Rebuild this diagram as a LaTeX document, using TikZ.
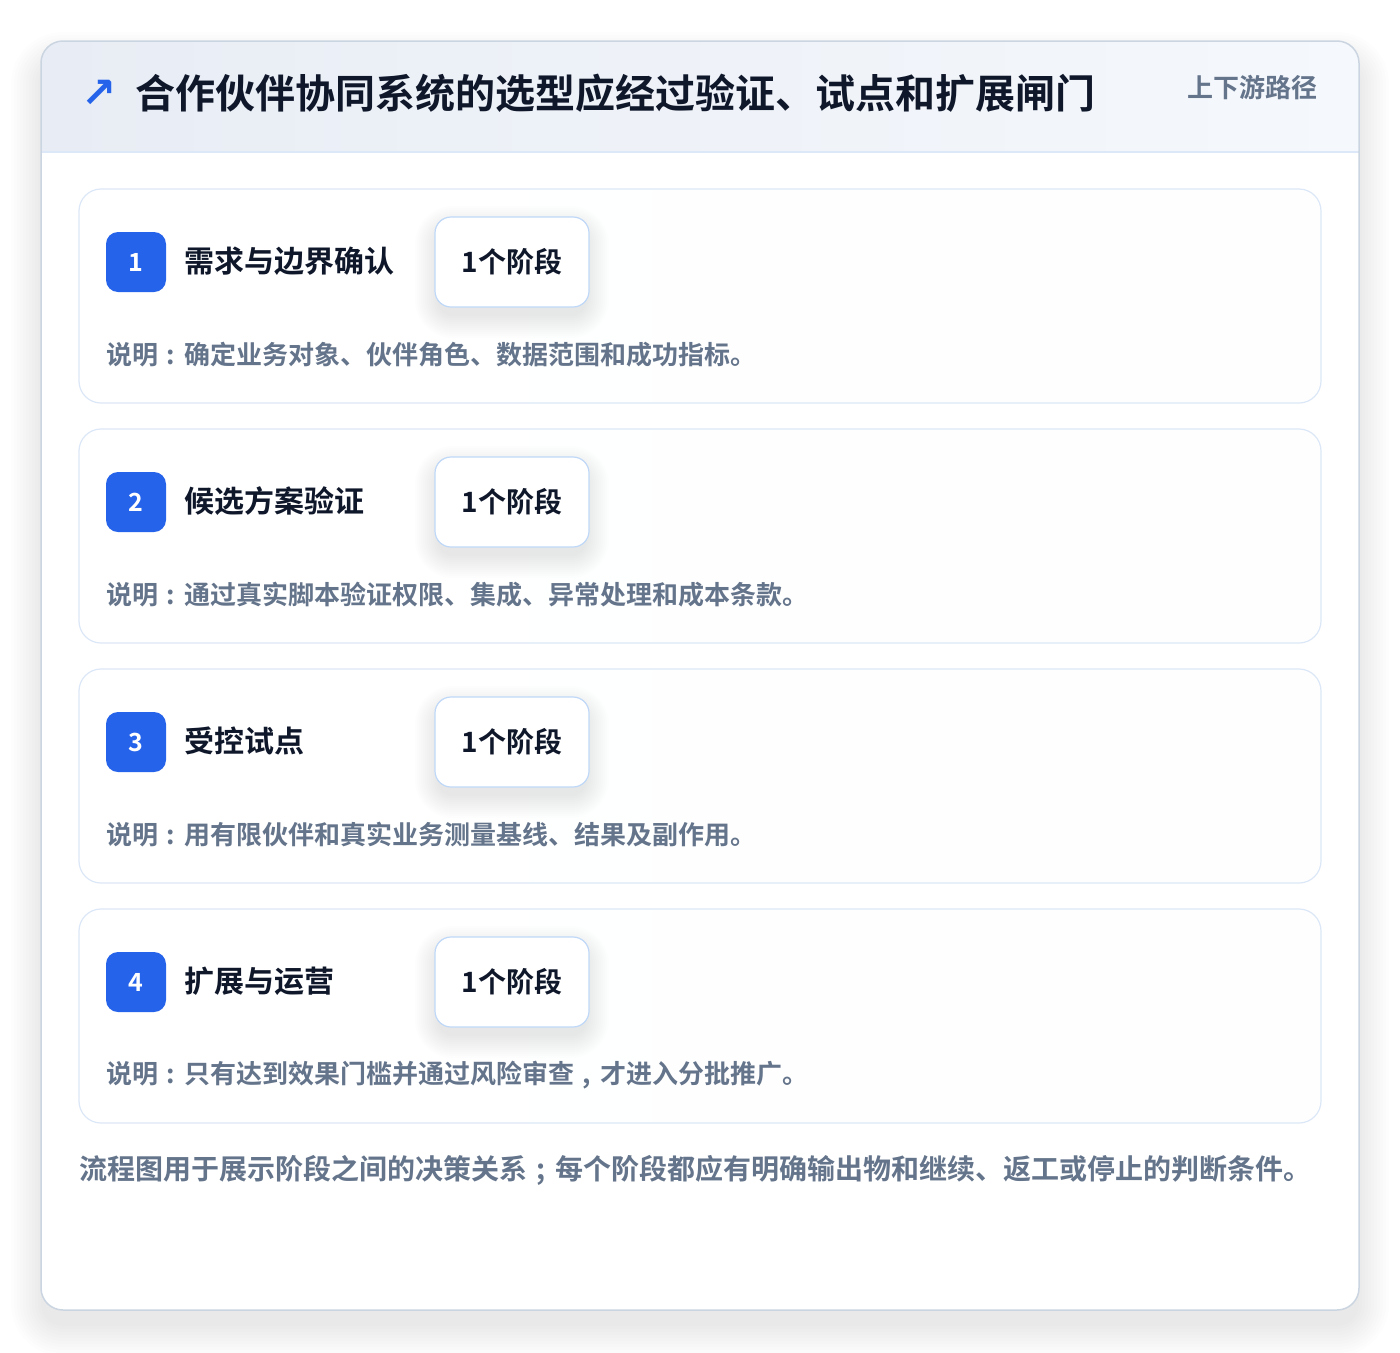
\documentclass[tikz,border=0pt]{standalone}
\usepackage{fontspec}
\newfontfamily\cjk{Noto Sans CJK SC}[UprightFont=* Medium, BoldFont=* Bold]
\newfontfamily\symf{DejaVu Sans}

\definecolor{accent}{HTML}{2563EB}
\definecolor{ink}{HTML}{0F172A}
\definecolor{muted}{HTML}{64748B}
\definecolor{cardline}{HTML}{DCE7F7}
\definecolor{tagline}{HTML}{BFD8F8}
\definecolor{frameline}{HTML}{CBD5E1}
\definecolor{headl}{HTML}{E8EDF5}
\definecolor{headr}{HTML}{F5F8FC}

% centred full-width punctuation
\newcommand\zcolon{\makebox[1em]{:}}
\newcommand\zcomma{\makebox[1em]{,}}
\newcommand\zsemi{\makebox[1em]{;}}

\tikzset{
  txt/.style={inner sep=0,anchor=west,font=\cjk},
  stepcard/.style={draw=cardline,line width=1.2pt,rounded corners=22,
    left color=white,right color=white!94!headl,
    minimum width=1242,minimum height=214},
  badge/.style={fill=accent,rounded corners=12,minimum size=60,inner sep=0,
    text=white,font=\cjk\bfseries\fontsize{25}{30}\selectfont},
  steptitle/.style={txt,text=ink,font=\cjk\bfseries\fontsize{30}{36}\selectfont},
  tag/.style={draw=tagline,line width=1.2pt,fill=white,rounded corners=16,
    minimum width=154,minimum height=90,inner sep=0,text=ink,
    font=\cjk\bfseries\fontsize{28}{34}\selectfont},
  desc/.style={txt,text=muted,font=\cjk\bfseries\fontsize{26}{32}\selectfont},
  haze/.style={fill=black,fill opacity=#1},
  haze/.default=0.011
}

\begin{document}
\begin{tikzpicture}[x=1pt,y=-1pt]
  \useasboundingbox (0,0) rectangle (1400,1352);
  \fill[white] (0,0) rectangle (1400,1352);

  % frame shadow
  \foreach \s in {0,3,...,30}
    \fill[haze=0.007,rounded corners=22+\s] (41-\s,62-\s) rectangle (1359+\s,1326+\s);

  % frame
  \node (frame) at (700,675.5) [fill=white!99!headl,rounded corners=22,
    minimum width=1318,minimum height=1269]{};
  \begin{scope}
    \clip[rounded corners=22] (41,41) rectangle (1359,1310);
    \fill[left color=headl,right color=headr] (41,41) rectangle (1359,152);
  \end{scope}
  \draw[cardline,line width=1.2pt] (41,152) -- (1359,152);
  \draw[frameline,line width=1.5pt,rounded corners=22] (41,41) rectangle (1359,1310);

  \node (arrow) at (99,94) [inner sep=0,text=accent,font=\symf\bfseries\fontsize{42}{48}\selectfont]{↗};
  \node (title) at (135,93) [txt,text=ink,font=\cjk\bfseries\fontsize{40}{48}\selectfont]
    {合作伙伴协同系统的选型应经过验证、试点和扩展闸门};
  \node (route) at (1318,88) [inner sep=0,anchor=east,text=muted,font=\cjk\bfseries\fontsize{26}{32}\selectfont]{上下游路径};

  % step cards
  \node (card1) at (700,296) [stepcard]{};
  \node (card2) at (700,536) [stepcard]{};
  \node (card3) at (700,776) [stepcard]{};
  \node (card4) at (700,1016) [stepcard]{};

  % tag shadows
  \foreach \y in {262,502,742,982}
    \foreach \s in {0,2,...,22}
      \fill[haze=0.006,rounded corners=16+\s] (437-\s,\y-34-\s) rectangle (587+\s,\y+54+\s);

  % step 1
  \node (badge1) at (136,262) [badge]{1};
  \node (name1) at (184,261) [steptitle]{需求与边界确认};
  \node (tag1) at (512,262) [tag]{1个阶段};
  \node (desc1) at (106,355) [desc]{说明\zcolon 确定业务对象、伙伴角色、数据范围和成功指标。};

  % step 2
  \node (badge2) at (136,502) [badge]{2};
  \node (name2) at (184,501) [steptitle]{候选方案验证};
  \node (tag2) at (512,502) [tag]{1个阶段};
  \node (desc2) at (106,595) [desc]{说明\zcolon 通过真实脚本验证权限、集成、异常处理和成本条款。};

  % step 3
  \node (badge3) at (136,742) [badge]{3};
  \node (name3) at (184,741) [steptitle]{受控试点};
  \node (tag3) at (512,742) [tag]{1个阶段};
  \node (desc3) at (106,835) [desc]{说明\zcolon 用有限伙伴和真实业务测量基线、结果及副作用。};

  % step 4
  \node (badge4) at (136,982) [badge]{4};
  \node (name4) at (184,981) [steptitle]{扩展与运营};
  \node (tag4) at (512,982) [tag]{1个阶段};
  \node (desc4) at (106,1075) [desc]{说明\zcolon 只有达到效果门槛并通过风险审查\zcomma 才进入分批推广。};

  \node (note) at (79,1170) [txt,text=muted,font=\cjk\bfseries\fontsize{28}{34}\selectfont]
    {流程图用于展示阶段之间的决策关系\zsemi 每个阶段都应有明确输出物和继续、返工或停止的判断条件。};
\end{tikzpicture}
\end{document}
